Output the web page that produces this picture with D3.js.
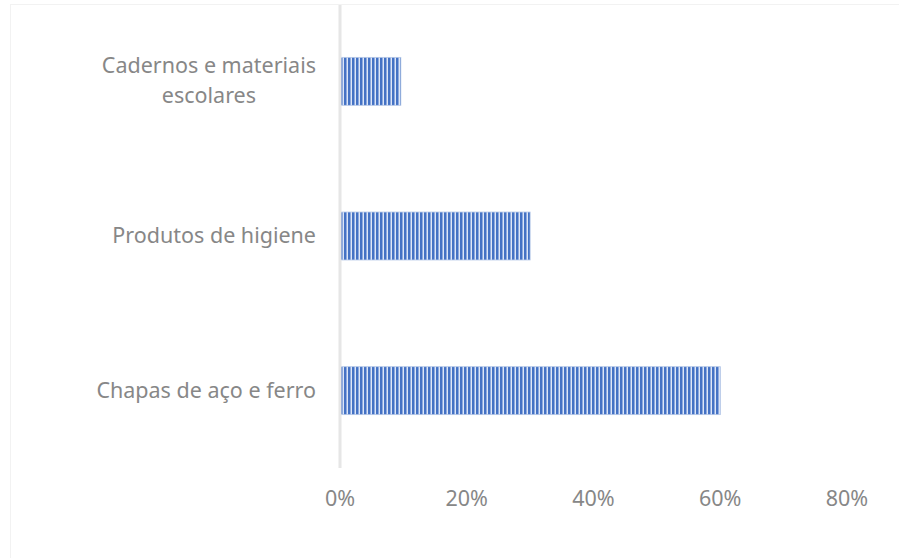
<!DOCTYPE html>
<html lang="pt">
<head>
<meta charset="utf-8">
<title>Barras</title>
<script src="https://d3js.org/d3.v7.min.js"></script>
<style>
  body { margin: 0; background: #fff; }
  text { font-family: "Noto Sans", "Open Sans", sans-serif; fill: #878787; }
</style>
</head>
<body>
<div id="chart"></div>
<script>
// data
var categories = [["Cadernos e materiais", "escolares"], ["Produtos de higiene"], ["Chapas de aço e ferro"]];
var values = [0.096, 0.30, 0.60];
var ticks = [0, 0.2, 0.4, 0.6, 0.8];

var w = 899, h = 558;
var fs = 21.5;

var svg = d3.select("#chart").append("svg")
  .attr("width", w).attr("height", h);

// faint chart border
svg.append("rect")
  .attr("x", 10.5).attr("y", 4.5).attr("width", w).attr("height", h)
  .attr("fill", "none").attr("stroke", "#f2f2f2");

// stripe pattern
var defs = svg.append("defs");
var pat = defs.append("pattern").attr("id", "stripes")
  .attr("patternUnits", "userSpaceOnUse").attr("width", 4).attr("height", 10);
pat.append("rect").attr("width", 4).attr("height", 10).attr("fill", "#dde6f6");
pat.append("rect").attr("width", 2).attr("height", 10).attr("fill", "#4472c4");
pat.append("rect").attr("x", 2).attr("width", 1).attr("height", 10).attr("fill", "#8eaadf");

var x = d3.scaleLinear().domain([0, 0.8]).range([340, 847]);
var y = d3.scaleBand().domain(d3.range(categories.length)).range([4, 468]).paddingInner(0.69).paddingOuter(0.345);

// bars
svg.append("g").selectAll("rect")
  .data(values)
  .enter().append("rect")
  .attr("x", x(0))
  .attr("y", function(d, i) { return y(i); })
  .attr("width", function(d) { return x(d) - x(0); })
  .attr("height", y.bandwidth())
  .attr("fill", "url(#stripes)")
  .attr("stroke", "#b4c7e7").attr("stroke-width", 0.8);

// vertical axis line
svg.append("line")
  .attr("x1", x(0)).attr("x2", x(0))
  .attr("y1", 5).attr("y2", 468)
  .attr("stroke", "#e6e6e6").attr("stroke-width", 3);

// x tick labels
svg.append("g").selectAll("text")
  .data(ticks)
  .enter().append("text")
  .attr("x", function(d) { return x(d); })
  .attr("y", 506)
  .attr("text-anchor", "middle")
  .attr("font-size", fs)
  .text(function(d) { return Math.round(d * 100) + "%"; });

// category labels (wrapped lines centered on the widest one)
var labRight = 316, lh = 30;
categories.forEach(function(lines, i) {
  var cy = y(i) + y.bandwidth() / 2;
  var g = svg.append("g");
  var texts = lines.map(function(l, j) {
    return g.append("text")
      .attr("font-size", fs)
      .attr("y", cy + 7 + (j - (lines.length - 1) / 2) * lh)
      .text(l);
  });
  var maxW = d3.max(texts, function(t) { return t.node().getComputedTextLength(); });
  texts.forEach(function(t) {
    t.attr("text-anchor", "middle").attr("x", labRight - maxW / 2);
  });
});
</script>
</body>
</html>
